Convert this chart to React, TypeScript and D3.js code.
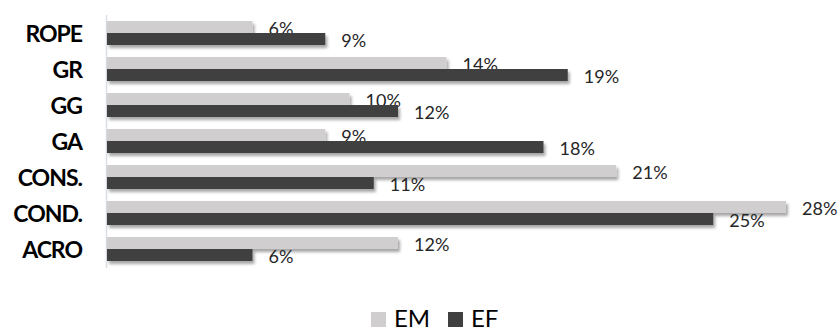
import React from "react";
import * as d3 from "d3";

const categories = ["ROPE", "GR", "GG", "GA", "CONS.", "COND.", "ACRO"];
const seriesNames = ["EM", "EF"];
const emValues = [0.06, 0.14, 0.1, 0.09, 0.21, 0.28, 0.12];
const efValues = [0.09, 0.19, 0.12, 0.18, 0.11, 0.25, 0.06];
const colors = ["#d0cece", "#404040"];

const W = 840;
const H = 331;

export default function App() {
  const x = d3.scaleLinear().domain([0, 0.3]).range([107, 107 + 30 * 24.25]);
  const y = d3
    .scaleBand<string>()
    .domain(categories)
    .range([15, 267])
    .paddingInner(1 / 3)
    .paddingOuter(1 / 6);
  const sub = d3.scaleBand<string>().domain(seriesNames).range([0, y.bandwidth()]);
  const series = [emValues, efValues];
  const fmt = d3.format(".0%");

  return (
    <svg
      width={W}
      height={H}
      style={{ position: "absolute", left: 0, top: 0, background: "#fff" }}
      fontFamily="Lato, 'Open Sans', sans-serif"
    >
      <defs>
        <filter id="sh" x="-5%" y="-50%" width="110%" height="250%">
          <feDropShadow dx="2" dy="3" stdDeviation="1.6" floodColor="#000" floodOpacity="0.35" />
        </filter>
      </defs>
      <line x1={106.5} x2={106.5} y1={15} y2={268} stroke="#d9dde4" strokeWidth={1.5} />
      {categories.map((c, i) => (
        <g key={c}>
          {series.map((vals, s) => {
            const y0 = (y(c) as number) + (sub(seriesNames[s]) as number);
            const h = sub.bandwidth();
            return (
              <g key={s}>
                <rect
                  x={x(0)}
                  y={y0}
                  width={x(vals[i]) - x(0)}
                  height={h}
                  fill={colors[s]}
                  filter="url(#sh)"
                />
                <text x={x(vals[i]) + 16} y={y0 + h + 1.5} fontSize={18} fill="#262626">
                  {fmt(vals[i])}
                </text>
              </g>
            );
          })}
          <text
            x={82}
            y={(y(c) as number) + y.bandwidth() / 2 + 8.5}
            textAnchor="end"
            fontSize={23}
            fontWeight={700}
            letterSpacing={-1}
            fill="#000"
          >
            {c}
          </text>
        </g>
      ))}
      <g>
        {seriesNames.map((n, s) => {
          const lx = [371, 448][s];
          return (
            <g key={n}>
              <rect x={lx} y={312} width={15} height={15} fill={colors[s]} />
              <text x={lx + 23} y={326.5} fontSize={24} fill="#000">
                {n}
              </text>
            </g>
          );
        })}
      </g>
    </svg>
  );
}
